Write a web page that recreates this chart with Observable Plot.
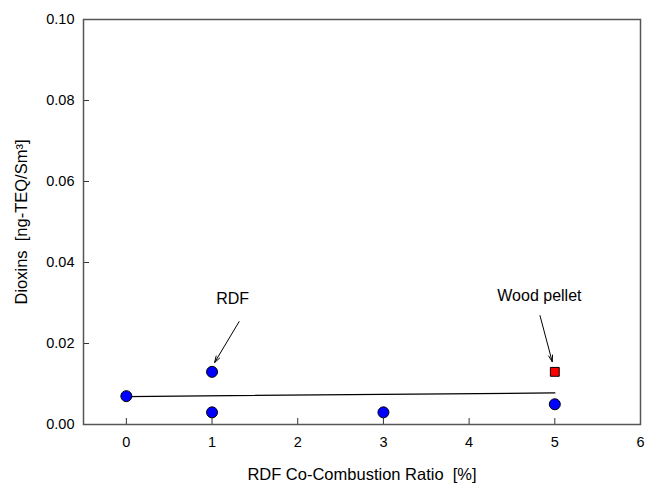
<!DOCTYPE html>
<html>
<head>
<meta charset="utf-8">
<script src="https://cdn.jsdelivr.net/npm/d3@7"></script>
<script src="https://cdn.jsdelivr.net/npm/@observablehq/plot@0.6"></script>
<style>
  html, body { margin: 0; padding: 0; background: white; }
</style>
</head>
<body>
<div id="chart"></div>
<script>
// RDF co-combustion points (blue circles)
const rdfRatio = [0, 1, 1, 3, 5];
const rdfDioxins = [0.007, 0.013, 0.003, 0.003, 0.005];
// Wood pellet point (red square)
const woodRatio = [5];
const woodDioxins = [0.013];
// Fitted line endpoints
const fitRatio = [0, 5];
const fitDioxins = [0.0069, 0.0078];
// Axis ticks
const xTicks = [0, 1, 2, 3, 4, 5, 6];
const yTicks = [0, 0.02, 0.04, 0.06, 0.08, 0.10];
// Annotations
const labels = ["RDF", "Wood pellet"];
const labelX = [1.24, 4.82];
const labelY = [0.0311, 0.0318];
const arrowX1 = [1.316, 4.827];
const arrowY1 = [0.0254, 0.0269];
const arrowX2 = [1.03, 4.97];
const arrowY2 = [0.0153, 0.0155];

const W = 647, H = 484;
const mL = 83, mR = 7, mT = 19, mB = 60;
const plotW = W - mL - mR, plotH = H - mT - mB;

const rdf = rdfRatio.map((x, i) => ({x, y: rdfDioxins[i]}));
const wood = woodRatio.map((x, i) => ({x, y: woodDioxins[i]}));
const fit = fitRatio.map((x, i) => ({x, y: fitDioxins[i]}));
const ann = labels.map((t, i) => ({t, x: labelX[i], y: labelY[i], x1: arrowX1[i], y1: arrowY1[i], x2: arrowX2[i], y2: arrowY2[i]}));

const chart = Plot.plot({
  width: W,
  height: H,
  marginLeft: mL,
  marginRight: mR,
  marginTop: mT,
  marginBottom: mB,
  style: {fontFamily: "'Liberation Sans', Arial, sans-serif", fontSize: "14px", background: "white", color: "black"},
  x: {domain: [-0.5, 6]},
  y: {domain: [0, 0.10]},
  marks: [
    Plot.axisX({ticks: xTicks, tickSize: 0, tickPadding: 12, tickFormat: d3.format("d"), fontSize: 14.5, label: null}),
    Plot.axisX({ticks: [], tickSize: 0, fontSize: 16.5,
      label: "RDF Co-Combustion Ratio\u00a0 [%]", labelArrow: "none", labelAnchor: "center", labelOffset: 55}),
    Plot.axisY({ticks: yTicks, tickSize: 0, tickPadding: 9, tickFormat: d3.format(".2f"), fontSize: 14.5, label: null}),
    Plot.axisY({ticks: [], tickSize: 0, fontSize: 16.5,
      label: "Dioxins\u00a0 [ng-TEQ/Sm³]", labelArrow: "none", labelAnchor: "center", labelOffset: 68}),
    Plot.tickX(xTicks, {stroke: "#333", insetTop: plotH - 6}),
    Plot.tickY(yTicks, {stroke: "#333", insetRight: plotW - 6}),
    Plot.frame({stroke: "#555", strokeWidth: 1.5}),
    Plot.line(fit, {x: "x", y: "y", stroke: "black", strokeWidth: 1.3}),
    Plot.dot(rdf, {x: "x", y: "y", r: 5.5, fill: "#0000ff", stroke: "black", strokeWidth: 1}),
    Plot.dot(wood, {x: "x", y: "y", r: 5, symbol: "square", fill: "#ff0000", stroke: "black", strokeWidth: 1}),
    Plot.arrow(ann, {x1: "x1", y1: "y1", x2: "x2", y2: "y2", stroke: "black", strokeWidth: 1, headLength: 10, headAngle: 35}),
    Plot.text(ann, {x: "x", y: "y", text: "t", fontSize: 16, fill: "black"})
  ]
});
document.getElementById("chart").appendChild(chart);
</script>
</body>
</html>
